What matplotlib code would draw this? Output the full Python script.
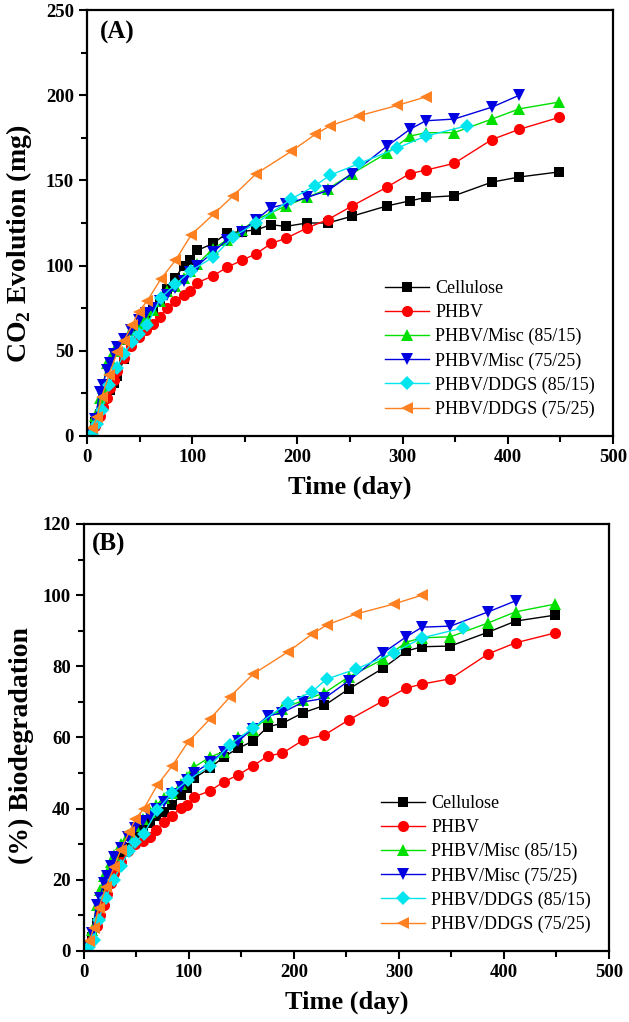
# CO2 evolution and biodegradation of PHBV composites

import numpy as np
import matplotlib
matplotlib.use('Agg')
import matplotlib.pyplot as plt
from matplotlib.ticker import MultipleLocator

plt.rcParams['font.family'] = ['Liberation Serif', 'DejaVu Serif']
plt.rcParams['mathtext.fontset'] = 'custom'
plt.rcParams['mathtext.rm'] = 'Liberation Serif'
plt.rcParams['mathtext.bf'] = 'Liberation Serif:bold'

# Sampling days
days_m = [3, 8, 12, 15, 19, 22, 26, 29, 35, 42, 49, 56, 63, 69, 76, 84, 92, 98,
          105, 120, 133, 147, 161, 175, 189, 209, 229, 252, 285, 307, 322, 349,
          385, 411, 449]
days_d = [5, 9.5, 14, 21, 28.5, 35, 43, 49, 57, 70, 84, 99, 120, 139, 161, 194,
          217, 231, 259, 295, 322, 361]

# (A) CO2 evolution in mg
co2_cellulose = [2, 8, 13, 18, 23, 27, 31, 35, 45, 55, 62, 68, 74, 80, 86, 93, 100,
                 103, 109, 113, 119, 120, 121, 124, 123, 125, 125, 129, 135, 138,
                 140, 141, 149, 152, 155]
co2_phbv = [1, 6, 12, 17, 22, 28, 33, 38, 46, 53, 58, 62, 66, 70, 75, 79, 83, 85,
            90, 94, 99, 103, 107, 113, 116, 122, 127, 135, 146, 154, 156, 160, 174,
            180, 187]
co2_misc85 = [3, 12, 22, 28, 43, 45, 50, 52, 57, 62, 66, 70, 74, 79, 85, 88, 93, 97,
              101, 110, 115, 121, 127, 131, 135, 140, 145, 154, 166, 176, 178, 178,
              186, 192, 196]
co2_misc75 = [2, 10, 26, 30, 39, 43, 48, 52, 57, 62, 68, 72, 75, 79, 83, 87, 91, 96,
              100, 108, 115, 120, 127, 134, 136, 140, 144, 154, 170, 180, 185, 186,
              193, 200]
co2_ddgs85 = [1, 7, 15, 30, 40, 48, 55, 60, 65, 81, 89, 97, 105, 117, 125, 139, 147,
              153, 160, 169, 176, 182]
co2_ddgs75 = [4.5, 11, 23, 36, 49, 56, 65, 73, 79, 92, 103, 118, 130, 141, 154, 167,
              177, 182, 188, 194, 199]

# (B) biodegradation in %
bio_cellulose = [1, 4, 8, 12, 15, 18, 21, 23, 26, 29, 32, 34, 36, 38, 39, 41, 43.8,
                 45.8, 48.6, 51.4, 54.5, 57, 59, 63, 64, 67, 69, 73.6, 79.5, 84.3,
                 85.5, 85.7, 89.6, 92.7, 94.4]
bio_phbv = [0.5, 3, 7, 10, 13, 16, 19, 22, 25, 28, 30, 31, 32, 34, 36.3, 38, 40.2,
            41, 43.3, 45, 47.5, 49.5, 52, 54.8, 55.6, 59.3, 60.7, 64.9, 70.3, 73.9,
            75, 76.5, 83.5, 86.6, 89.4]
bio_misc85 = [1.5, 6, 13, 17, 21, 22, 25, 27, 30, 32.5, 35, 37, 39, 41, 43, 44.5, 47,
              49, 51.7, 54.5, 56, 60, 62, 65.8, 68, 70.5, 72.5, 77, 82, 86.8, 88,
              88.3, 92.2, 95.3, 97.5]
bio_misc75 = [1, 5, 13, 15, 19, 21, 24, 26.5, 29, 32, 34.5, 36.5, 38, 40, 42, 44, 46,
              48, 50, 53, 56, 59, 62.5, 66, 67, 70, 71, 75.9, 83.8, 88.3, 91, 91.3,
              95.3, 98.4]
bio_ddgs85 = [1, 3, 8.7, 15, 20, 24, 28, 30.6, 33, 39.6, 44.4, 48, 52, 58, 62.7,
              69.7, 72.8, 76.4, 79.2, 83.8, 88, 90.8]
bio_ddgs75 = [2.8, 6.5, 12, 18, 23.5, 28.4, 33.4, 37, 40, 46.7, 52, 58.7, 65.2, 71.4,
              77.8, 84, 89, 91.6, 94.7, 97.5, 100]

labels = ['Cellulose', 'PHBV', 'PHBV/Misc (85/15)', 'PHBV/Misc (75/25)',
          'PHBV/DDGS (85/15)', 'PHBV/DDGS (75/25)']
colors = ['black', 'red', '#00e000', '#0000e0', '#00e5ee', '#ff8020']
markers = ['s', 'o', '^', 'v', 'D', '<']
msizes = [7, 8, 8.5, 8.5, 7, 8.5]


def draw(ax, series, ymax, ystep, yminor, ylabel, ylab_xy, tag, tagx, tagy):
    xs = [days_m, days_m, days_m, days_m[:-1], days_d, days_d[:-1]]
    for x, y, lab, c, m, ms in zip(xs, series, labels, colors, markers, msizes):
        ax.plot(x, y, color=c, marker=m, markersize=ms, linewidth=1,
                markeredgewidth=0, label=lab)
    ax.set_xlim(0, 500)
    ax.set_ylim(0, ymax)
    ax.xaxis.set_major_locator(MultipleLocator(100))
    ax.xaxis.set_minor_locator(MultipleLocator(50))
    ax.yaxis.set_major_locator(MultipleLocator(ystep))
    ax.yaxis.set_minor_locator(MultipleLocator(yminor))
    ax.tick_params(which='major', direction='out', length=6, width=1.5,
                   labelsize=13.5)
    ax.tick_params(which='minor', direction='out', length=4, width=1.5)
    for t in ax.get_xticklabels() + ax.get_yticklabels():
        t.set_fontweight('bold')
    for s in ax.spines.values():
        s.set_linewidth(1.6)
    ax.set_xlabel('Time (day)', fontsize=19, fontweight='bold', labelpad=7)
    ax.set_ylabel(ylabel, fontsize=20, fontweight='bold')
    ax.yaxis.set_label_coords(*ylab_xy)
    ax.text(tagx, tagy, tag, transform=ax.transAxes, fontsize=18,
            fontweight='bold', va='top', ha='left')
    ax.legend(loc='lower right', frameon=False, fontsize=13, handlelength=2.45,
              labelspacing=0.38, handletextpad=0.35, borderaxespad=0.6)


fig = plt.figure(figsize=(6.29, 10.22), dpi=100)
ax1 = fig.add_axes([0.1383, 0.5734, 0.8362, 0.4168])
ax2 = fig.add_axes([0.1335, 0.0695, 0.8347, 0.4178])

draw(ax1, [co2_cellulose, co2_phbv, co2_misc85, co2_misc75, co2_ddgs85, co2_ddgs75],
     250, 50, 25, r'CO$_\mathbf{2}$ Evolution (mg)', (-0.10, 0.45),
     '(A)', 0.025, 0.975)
draw(ax2, [bio_cellulose, bio_phbv, bio_misc85, bio_misc75, bio_ddgs85, bio_ddgs75],
     120, 20, 10, '(%) Biodegradation', (-0.095, 0.48),
     '(B)', 0.015, 0.98)

plt.savefig('out.png', dpi=100)
